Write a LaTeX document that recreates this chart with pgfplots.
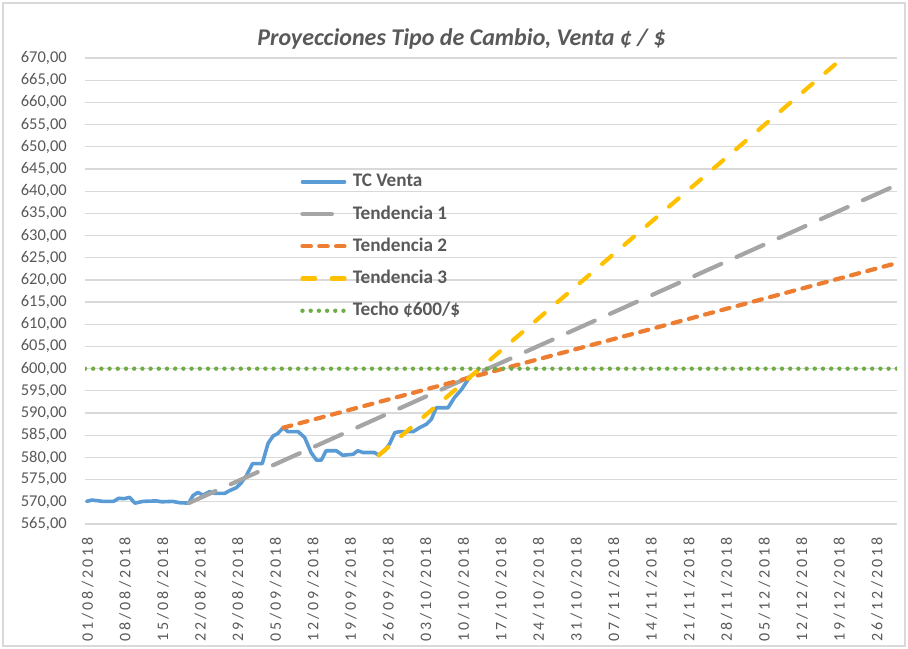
\documentclass[border=0pt]{standalone}
\usepackage{fontspec}
\setmainfont{Carlito}
\newfontfamily\datefont[LetterSpace=19]{Carlito}
\usepackage{pgfplots}
\pgfplotsset{compat=1.18}

\definecolor{tcblue}{HTML}{5B9BD5}
\definecolor{tgray}{HTML}{A5A5A5}
\definecolor{torange}{HTML}{ED7D31}
\definecolor{tyellow}{HTML}{FFC000}
\definecolor{tgreen}{HTML}{70AD47}
\definecolor{txt}{HTML}{595959}
\definecolor{grid}{HTML}{D9D9D9}

% x = days since 01/08/2018
\pgfplotstableread{
d v
0 570.1
1 570.4
3 570.1
5 570.1
6 570.8
7 570.7
8 571.0
9 569.7
10.5 570.1
13 570.2
14 570.0
16 570.1
17.3 569.8
19 569.7
19.8 571.4
20.7 572.1
21.7 571.5
22.9 572.3
23.8 571.9
25.7 571.9
26.6 572.5
27.9 573.2
28.8 574.3
29.7 575.8
30.9 578.6
32.7 578.6
33.8 583.2
34.7 584.8
35.6 585.4
36.6 586.7
37.5 585.8
39.4 585.8
40.6 584.5
41.8 581.1
42.8 579.4
43.7 579.4
44.6 581.5
46.5 581.5
47.7 580.5
49.6 580.7
50.5 581.5
51.5 581.1
53.6 581.1
54.4 580.5
55.5 581.5
56.4 583.0
57.4 585.6
58.3 585.8
60.8 585.8
62.0 586.7
63.3 587.5
64.2 588.6
65.1 591.2
67.3 591.2
68.5 593.5
69.8 595.3
71.5 598.4
}\tcventa

\begin{document}
\begin{tikzpicture}
\useasboundingbox (0bp,0bp) rectangle (908bp,649bp);
\draw[color=grid, line width=1.2bp] (3bp,3bp) rectangle (905bp,646bp);
\begin{axis}[
  at={(85bp,125bp)}, anchor=south west,
  scale only axis, width=812bp, height=466bp,
  xmin=-0.3, xmax=150.9, ymin=565, ymax=670,
  axis line style={draw=none},
  major tick length=0pt,
  ymajorgrids, grid style={color=grid, line width=1.2bp},
  ytick={565,570,...,670},
  xtick={0,7,...,147},
  xticklabels={01/08/2018,08/08/2018,15/08/2018,22/08/2018,29/08/2018,05/09/2018,12/09/2018,19/09/2018,26/09/2018,03/10/2018,10/10/2018,17/10/2018,24/10/2018,31/10/2018,07/11/2018,14/11/2018,21/11/2018,28/11/2018,05/12/2018,12/12/2018,19/12/2018,26/12/2018},
  xticklabel style={yshift=-13bp, xshift=1bp, rotate=90, anchor=east, inner sep=0pt,
    font=\datefont\fontsize{16bp}{19bp}\selectfont, text=txt},
  scaled y ticks=false,
  yticklabel style={anchor=east, inner sep=0pt, xshift=-18bp,
    font=\fontsize{16.5bp}{19bp}\selectfont, text=txt,
    /pgf/number format/fixed, /pgf/number format/fixed zerofill,
    /pgf/number format/precision=2, /pgf/number format/use comma,
    /pgf/number format/assume math mode=true},
  title={Proyecciones Tipo de Cambio, Venta ¢ / \$},
  title style={at={(0.4635,1)}, anchor=base, yshift=7bp, text=txt,
    font=\bfseries\itshape\fontsize{24bp}{28bp}\selectfont},
  legend image code/.code={\draw[#1] (1.5bp,0bp) -- (43.5bp,0bp); \path (49.6bp,0bp);},
  legend cell align=left,
  legend style={at={(0.2612,0.758)}, anchor=north west, draw=none, fill=none,
    font=\bfseries\fontsize{19.2bp}{22bp}\selectfont, text=txt,
    nodes={inner sep=0pt, text height=14bp, text depth=4bp},
    row sep=14.2bp},
]
\addplot[tcblue, line width=3.6bp, line join=round, line cap=round] table[x=d, y=v] {\tcventa};
\addlegendentry{TC Venta}
\addplot[tgray, line width=4.2bp, line cap=round, dash pattern=on 29.4bp off 16.8bp]
  coordinates {(19,569.7) (150.9,641.4)};
\addlegendentry{Tendencia 1}
\addplot[torange, line width=4.2bp, line cap=round, dash pattern=on 8.4bp off 8.4bp]
  coordinates {(36.6,586.7) (150.9,623.8)};
\addlegendentry{Tendencia 2}
\addplot[tyellow, line width=4.2bp, line cap=round, dash pattern=on 12.6bp off 16.8bp]
  coordinates {(54.4,580.5) (150.9,680.5)};
\addlegendentry{Tendencia 3}
\addplot[tgreen, line width=4.4bp, line cap=round, dash pattern=on 0bp off 8.2bp]
  coordinates {(-0.3,600) (150.9,600)};
\addlegendentry{Techo ¢600/\$}
\end{axis}
\end{tikzpicture}
\end{document}
